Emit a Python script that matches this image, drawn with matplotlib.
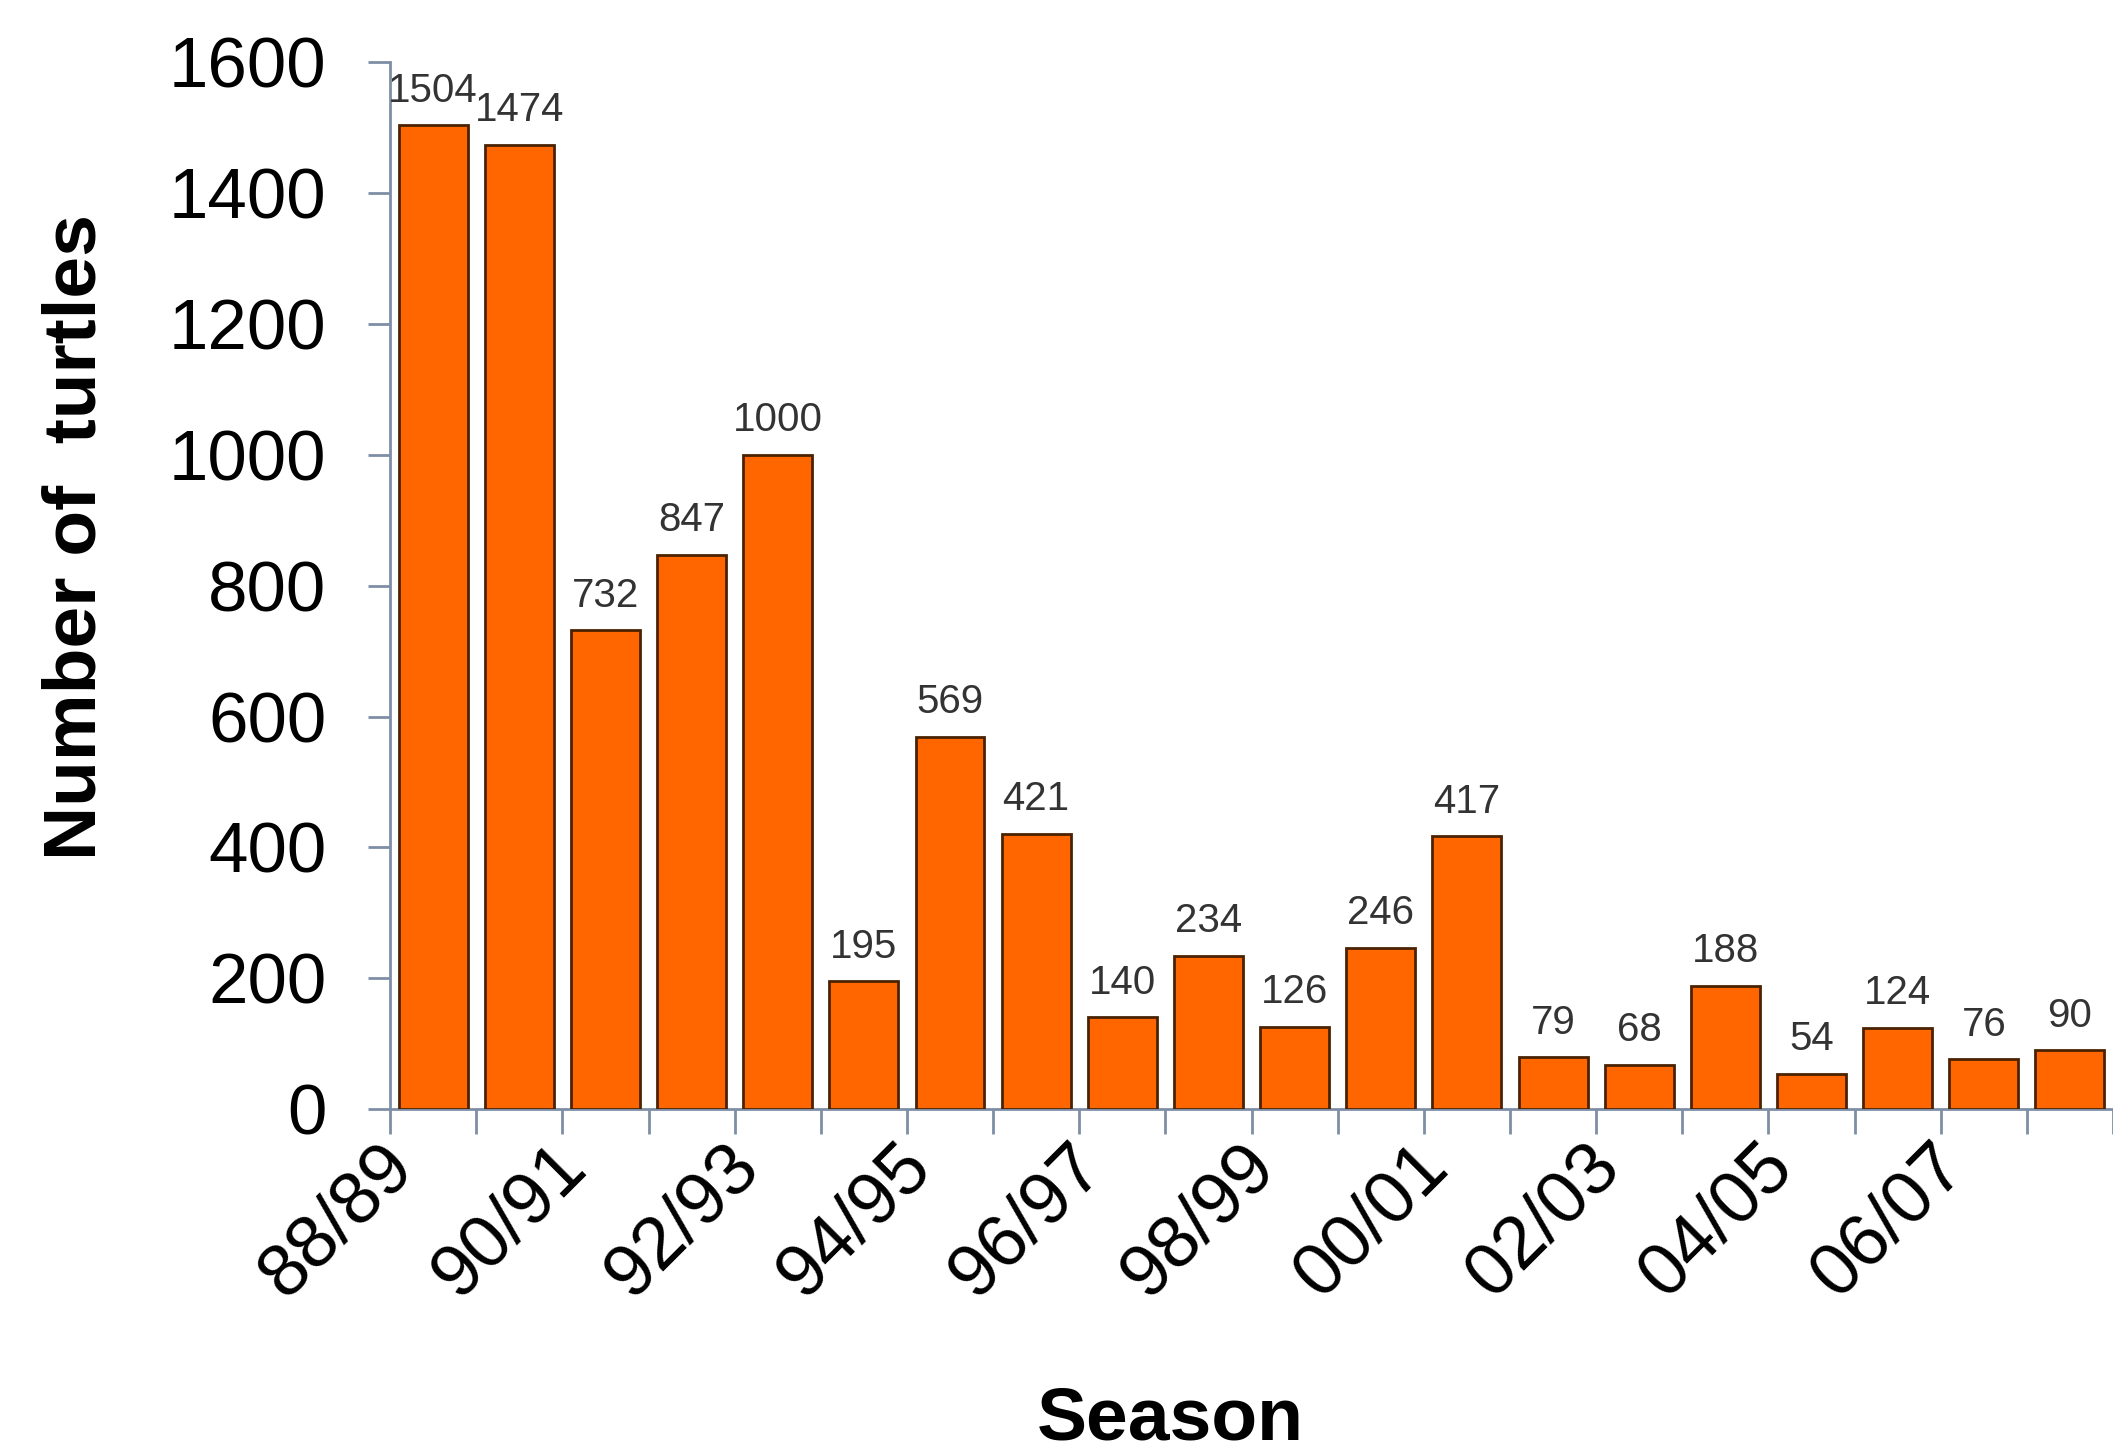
import numpy as np
import matplotlib
matplotlib.use("Agg")
import matplotlib.pyplot as plt
import matplotlib.transforms as mtransforms

# Nesting turtles counted per season
seasons = ["88/89", "89/90", "90/91", "91/92", "92/93", "93/94", "94/95", "95/96",
           "96/97", "97/98", "98/99", "99/00", "00/01", "01/02", "02/03", "03/04",
           "04/05", "05/06", "06/07", "07/08"]
turtles = [1504, 1474, 732, 847, 1000, 195, 569, 421, 140, 234,
           126, 246, 417, 79, 68, 188, 54, 124, 76, 90]
y_ticks = [0, 200, 400, 600, 800, 1000, 1200, 1400, 1600]

ORANGE = "#ff6600"
EDGE = "#4a2200"
AXIS = "#7d8ea5"

plt.rcParams["font.family"] = ["Liberation Sans", "DejaVu Sans"]

fig = plt.figure(figsize=(21.13, 14.51), dpi=100)
ax = fig.add_axes([0.1846, 0.2357, 0.8154, 0.7213])

x = np.arange(len(seasons))
bars = ax.bar(x, turtles, width=0.8, color=ORANGE, edgecolor=EDGE, linewidth=2, zorder=3)

for xi, v in zip(x, turtles):
    ax.annotate(f"{v}", (xi, v), xytext=(0, 17), textcoords="offset points",
                ha="center", va="baseline", fontsize=29, color="#333333")

ax.set_xlim(-0.5, 19.5)
ax.set_ylim(0, 1600)
ax.set_yticks(y_ticks)
ax.tick_params(axis="y", labelsize=51, length=16, width=2, color=AXIS, pad=30)

# boundary ticks between bars, labels under every second bar
ax.set_xticks(np.arange(-0.5, 20, 1.0))
ax.set_xticklabels([])
ax.tick_params(axis="x", which="major", length=18, width=2, color=AXIS, direction="out")
ax.set_xticks(x[::2], minor=True)
ax.set_xticklabels(seasons[::2], minor=True, rotation=45, ha="right", fontsize=53)
ax.tick_params(axis="x", which="minor", length=0, pad=16)
shift = mtransforms.ScaledTranslation(-6 / 100, 0, fig.dpi_scale_trans)
for lbl in ax.get_xticklabels(minor=True):
    lbl.set_transform(lbl.get_transform() + shift)

for s in ["top", "right"]:
    ax.spines[s].set_visible(False)
for s in ["left", "bottom"]:
    ax.spines[s].set_color(AXIS)
    ax.spines[s].set_linewidth(2)

fig.text(0.036, 0.630, "Number of  turtles", rotation=90, ha="center", va="center",
         fontsize=54, fontweight="bold")
fig.text(0.5537, 0.008, "Season", ha="center", va="baseline", fontsize=54, fontweight="bold")

fig.savefig("out.png", dpi=100, facecolor="white")
